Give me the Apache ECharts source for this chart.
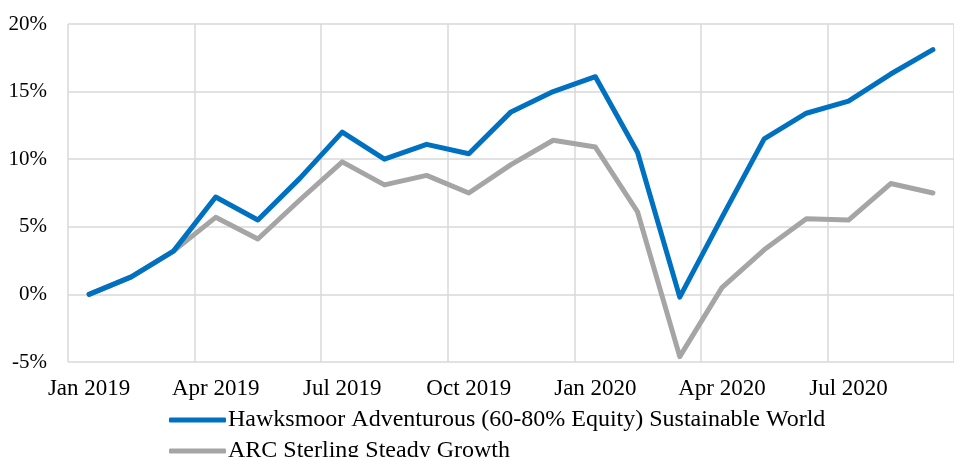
<!DOCTYPE html>
<html>
<head>
<meta charset="utf-8">
<script src="https://cdn.jsdelivr.net/npm/echarts@6/dist/echarts.min.js"></script>
<style>
  html, body { margin: 0; padding: 0; background: #fff; }
  #chart { width: 954px; height: 457px; }
</style>
</head>
<body>
<div id="chart"></div>
<script>
// monthly categories
const months = [
  'Jan 2019', 'Feb 2019', 'Mar 2019', 'Apr 2019', 'May 2019', 'Jun 2019',
  'Jul 2019', 'Aug 2019', 'Sep 2019', 'Oct 2019', 'Nov 2019', 'Dec 2019',
  'Jan 2020', 'Feb 2020', 'Mar 2020', 'Apr 2020', 'May 2020', 'Jun 2020',
  'Jul 2020', 'Aug 2020', 'Sep 2020'
]
// cumulative return, %
const hawksmoor = [0, 1.3, 3.2, 7.2, 5.5, 8.6, 12.0, 10.0, 11.1, 10.4, 13.5, 15.0,
  16.1, 10.5, -0.2, 5.7, 11.5, 13.4, 14.3, 16.3, 18.1]
const arc = [0, 1.3, 3.2, 5.7, 4.1, 7.0, 9.8, 8.1, 8.8, 7.5, 9.6, 11.4,
  10.9, 6.1, -4.6, 0.5, 3.3, 5.6, 5.5, 8.2, 7.5]
const yTicks = [-5, 0, 5, 10, 15, 20]
const names = ['Hawksmoor Adventurous (60-80% Equity) Sustainable World', 'ARC Sterling Steady Growth']

const font = 'Liberation Serif'
const legendBase = {
  left: 164,
  icon: 'roundRect',
  itemWidth: 57,
  itemHeight: 5,
  itemGap: 0,
  textStyle: { fontFamily: font, fontSize: 24, color: '#000', padding: [0, 0, 0, -3] }
}
const chart = echarts.init(document.getElementById('chart'))
chart.setOption({
  animation: false,
  grid: { left: 68, right: -9, top: 24, bottom: 95 },
  legend: [
    Object.assign({ top: 403, data: [names[0]] }, legendBase),
    Object.assign({ top: 434, data: [names[1]] }, legendBase)
  ],
  xAxis: {
    type: 'category',
    data: months,
    boundaryGap: true,
    axisLine: { show: false },
    axisTick: { show: false, interval: 2 },
    axisLabel: { interval: 2, margin: 15, fontFamily: font, fontSize: 23, color: '#000' },
    splitLine: { show: true, interval: 2, lineStyle: { color: '#d9d9d9', width: 1.5 } }
  },
  yAxis: {
    type: 'value',
    min: yTicks[0],
    max: yTicks[yTicks.length - 1],
    interval: 5,
    axisLine: { show: false },
    axisTick: { show: false },
    axisLabel: { margin: 21, fontFamily: font, fontSize: 21, color: '#000', formatter: '{value}%' },
    splitLine: { lineStyle: { color: '#d9d9d9', width: 1.5 } }
  },
  series: [
    {
      name: names[0],
      type: 'line',
      data: hawksmoor,
      showSymbol: false,
      z: 3,
      color: '#0070c0',
      lineStyle: { width: 5, cap: 'round', join: 'round' }
    },
    {
      name: names[1],
      type: 'line',
      data: arc,
      showSymbol: false,
      z: 2,
      color: '#a5a5a5',
      lineStyle: { width: 5, cap: 'round', join: 'round' }
    }
  ]
})
</script>
</body>
</html>
